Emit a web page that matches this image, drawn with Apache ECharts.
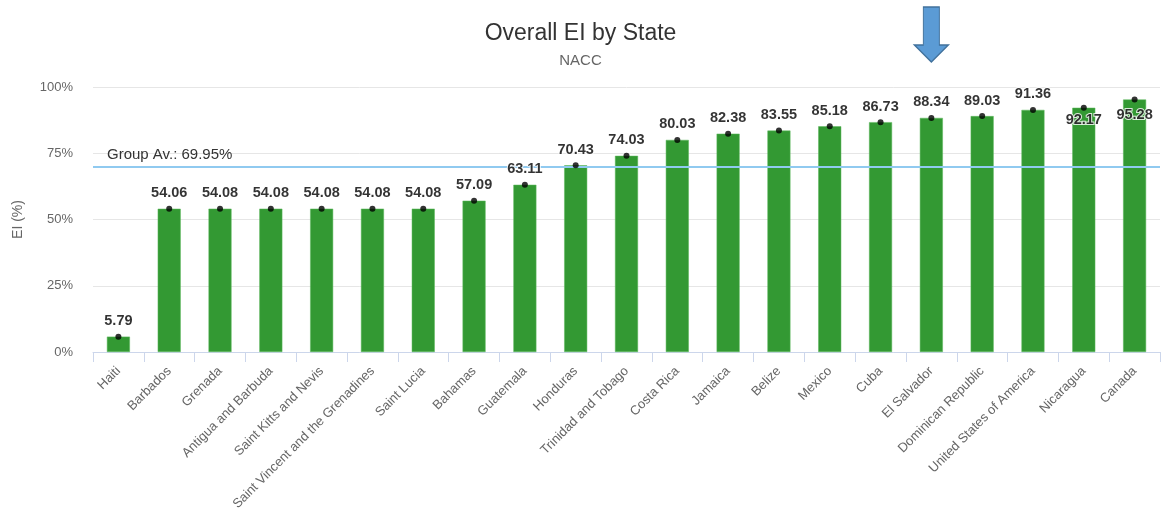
<!DOCTYPE html>
<html>
<head>
<meta charset="utf-8">
<script src="https://cdn.jsdelivr.net/npm/echarts@6/dist/echarts.min.js"></script>
<style>html,body{margin:0;padding:0;background:#fff}#c{width:1161px;height:514px}</style>
</head>
<body>
<div id="c"></div>
<script>
var categories = ["Haiti","Barbados","Grenada","Antigua and Barbuda","Saint Kitts and Nevis","Saint Vincent and the Grenadines","Saint Lucia","Bahamas","Guatemala","Honduras","Trinidad and Tobago","Costa Rica","Jamaica","Belize","Mexico","Cuba","El Salvador","Dominican Republic","United States of America","Nicaragua","Canada"];
var values = [5.79,54.06,54.08,54.08,54.08,54.08,54.08,57.09,63.11,70.43,74.03,80.03,82.38,83.55,85.18,86.73,88.34,89.03,91.36,92.17,95.28];
var groupAverage = 69.95;
var yTicks = [0,25,50,75,100];
var highlighted = "El Salvador";
var labelsBelow = ["Nicaragua","Canada"];

var font = "Liberation Sans, Arial, sans-serif";
var chart = echarts.init(document.getElementById('c'));
var dotData = values.map(function(v, i){
  var item = {value: v};
  if (labelsBelow.indexOf(categories[i]) >= 0) {
    item.label = {position: 'bottom', distance: i === values.length - 1 ? 5 : 2};
  }
  return item;
});
chart.setOption({
  animation: false,
  title: {
    text: 'Overall EI by State',
    subtext: 'NACC',
    left: 'center',
    top: 17,
    itemGap: 8,
    textStyle: {fontFamily: font, fontSize: 23, fontWeight: 'normal', color: '#333'},
    subtextStyle: {fontFamily: font, fontSize: 15, color: '#666'}
  },
  grid: {left: 93, right: 1, top: 87, bottom: 162, containLabel: false},
  xAxis: {
    type: 'category',
    data: categories,
    axisLine: {lineStyle: {color: '#ccd6eb'}},
    axisTick: {show: true, length: 10, lineStyle: {color: '#ccd6eb'}},
    axisLabel: {rotate: 45, interval: 0, color: '#666', fontFamily: font, fontSize: 13, margin: 17}
  },
  yAxis: {
    type: 'value',
    min: yTicks[0],
    max: yTicks[yTicks.length - 1],
    interval: 25,
    name: 'EI (%)',
    nameLocation: 'middle',
    nameGap: 68,
    nameTextStyle: {color: '#666', fontFamily: font, fontSize: 14},
    axisLabel: {formatter: '{value}%', color: '#666', fontFamily: font, fontSize: 13, margin: 20},
    splitLine: {lineStyle: {color: '#e6e6e6'}},
    axisLine: {show: false},
    axisTick: {show: false}
  },
  series: [
    {
      type: 'bar',
      data: values,
      barWidth: 23,
      itemStyle: {color: '#339933', borderColor: '#5cb85c', borderWidth: 0.5},
      z: 2,
      markLine: {
        silent: true,
        symbol: 'none',
        data: [{yAxis: groupAverage}],
        lineStyle: {color: '#90caf0', width: 2, type: 'solid'},
        label: {
          position: 'insideStartTop',
          formatter: 'Group Av.: ' + groupAverage.toFixed(2) + '%',
          color: '#333',
          fontFamily: font,
          fontSize: 15,
          distance: [14, 4]
        }
      },
      markPoint: {
        silent: true,
        data: [{coord: [highlighted, 100]}],
        symbol: 'path://M9,0 L25,0 L25,38 L34,38 L17,55 L0,38 L9,38 Z',
        symbolSize: [34, 55],
        symbolKeepAspect: false,
        symbolOffset: [0, -52.5],
        itemStyle: {color: '#5b9bd5', borderColor: '#41719c', borderWidth: 1.2},
        label: {show: false}
      }
    },
    {
      type: 'scatter',
      data: dotData,
      symbol: 'circle',
      symbolSize: 6,
      itemStyle: {color: '#000'},
      z: 5,
      label: {
        show: true,
        position: 'top',
        distance: 5,
        color: '#000',
        fontFamily: font,
        fontSize: 14.5,
        fontWeight: 'bold',
        textBorderColor: '#fff',
        textBorderWidth: 2,
        formatter: function(p){ return p.value.toFixed(2); }
      }
    }
  ]
});
</script>
</body>
</html>
